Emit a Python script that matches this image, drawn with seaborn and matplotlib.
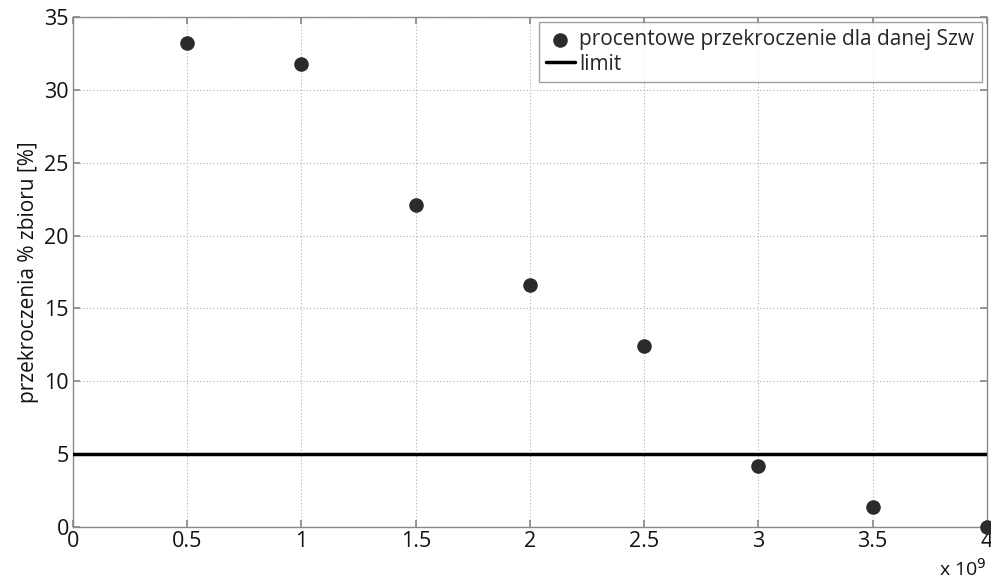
import matplotlib
matplotlib.use("Agg")
import matplotlib.pyplot as plt
import seaborn as sns
import numpy as np
import pandas as pd
from matplotlib.ticker import FuncFormatter, MultipleLocator

szw = [0.5e9, 1.0e9, 1.5e9, 2.0e9, 2.5e9, 3.0e9, 3.5e9, 4.0e9]
percent = [33.2, 31.8, 22.1, 16.6, 12.4, 4.2, 1.4, 0.0]
limit_value = 5
series_label = "procentowe przekroczenie dla danej Szw"
limit_label = "limit"
ylabel = "przekroczenia % zbioru [%]"

sns.set_theme(style="white")
plt.rcParams['font.family'] = ['Open Sans', 'DejaVu Sans']

df = pd.DataFrame({"Szw": szw, "pct": percent})

fig = plt.figure(figsize=(9.91, 5.83), dpi=100)
ax = fig.add_axes([0.0737, 0.096, 0.922, 0.875])

sns.scatterplot(data=df, x="Szw", y="pct", ax=ax, color="#2b2b2b", s=110,
                edgecolor="#2b2b2b", linewidth=0, label=series_label, clip_on=False, zorder=5)
ax.axhline(limit_value, color="black", lw=2.5, label=limit_label, zorder=4)

ax.set_xlim(0, 4e9)
ax.set_ylim(0, 35)
ax.xaxis.set_major_locator(MultipleLocator(0.5e9))
ax.yaxis.set_major_locator(MultipleLocator(5))
ax.xaxis.set_major_formatter(FuncFormatter(lambda v, p: f"{v/1e9:g}"))
ax.yaxis.set_major_formatter(FuncFormatter(lambda v, p: f"{v:g}"))

ax.grid(True, color="#b0b0b0", linestyle=(0, (1, 2)), linewidth=0.8)
for s in ax.spines.values():
    s.set_visible(True)
    s.set_color("#8a8a8a")
    s.set_linewidth(1.0)
ax.tick_params(axis="both", direction="in", length=5, color="#8a8a8a",
               labelsize=15.5, labelcolor="#111111", top=True, right=True,
               bottom=True, left=True, pad=3)
ax.set_xlabel("")
ax.set_ylabel(ylabel, fontsize=15, color="#111111", labelpad=4)

ax.text(1.0, -0.06, r"x 10$^{9}$", transform=ax.transAxes, ha="right", va="top",
        fontsize=14, color="#111111")

leg = ax.legend(loc="upper right", fontsize=15, frameon=True, fancybox=False,
                borderpad=0.35, handlelength=1.4, handletextpad=0.2, labelspacing=0.15,
                borderaxespad=0.25)
leg.get_frame().set_edgecolor("#8a8a8a")
leg.get_frame().set_linewidth(1.0)

fig.savefig("out.png", dpi=100)
